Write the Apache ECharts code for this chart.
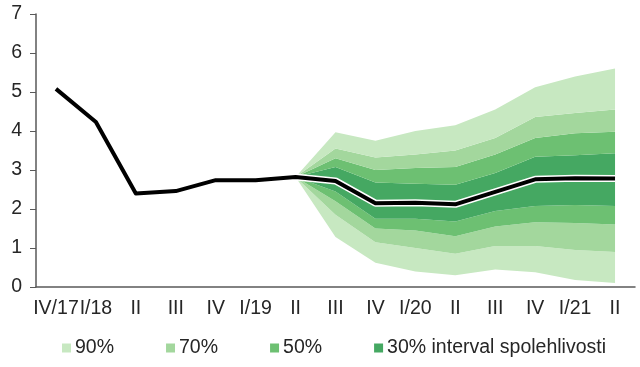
<!DOCTYPE html>
<html>
<head>
<meta charset="utf-8">
<script src="https://cdn.jsdelivr.net/npm/echarts@6/dist/echarts.min.js"></script>
<style>
html,body{margin:0;padding:0;background:#fff;}
#chart{width:640px;height:367px;}
</style>
</head>
<body>
<div id="chart"></div>
<script>
var categories = ['IV/17','I/18','II','III','IV','I/19','II','III','IV','I/20','II','III','IV','I/21','II'];
var lineValues = [5.08, 4.23, 2.40, 2.46, 2.74, 2.74, 2.82, 2.72, 2.15, 2.16, 2.12, 2.44, 2.76, 2.79, 2.78];
// fan chart edges, from II/19 (index 6) to II/21
var fanStart = 6;
var up90 = [2.82, 3.97, 3.75, 4.00, 4.15, 4.55, 5.12, 5.40, 5.60];
var up70 = [2.82, 3.55, 3.32, 3.40, 3.50, 3.82, 4.36, 4.46, 4.55];
var up50 = [2.82, 3.30, 3.00, 3.05, 3.08, 3.40, 3.82, 3.94, 3.98];
var up30 = [2.82, 3.08, 2.68, 2.65, 2.62, 2.92, 3.34, 3.38, 3.43];
var lo30 = [2.82, 2.45, 1.75, 1.75, 1.68, 1.95, 2.08, 2.10, 2.08];
var lo50 = [2.82, 2.20, 1.50, 1.45, 1.30, 1.55, 1.66, 1.64, 1.60];
var lo70 = [2.82, 1.85, 1.15, 1.00, 0.85, 1.05, 1.05, 0.95, 0.90];
var lo90 = [2.82, 1.28, 0.62, 0.40, 0.30, 0.45, 0.38, 0.18, 0.10];
var legendNames = ['90%', '70%', '50%', '30% interval spolehlivosti'];
var bandColors = ['#c7e8c1', '#a3d79d', '#6dc072', '#45a862'];

function full(arr) {
  var out = [];
  for (var i = 0; i < categories.length; i++) {
    var j = i - fanStart;
    out.push(j >= 0 && j < arr.length ? arr[j] : '-');
  }
  return out;
}
function diff(a, b) {
  var fa = full(a), fb = full(b);
  return fa.map(function (v, i) { return v === '-' ? '-' : +(v - fb[i]).toFixed(4); });
}

var edges = [lo90, lo70, lo50, lo30, up30, up50, up70, up90];
var bandLevel = [0, 1, 2, 3, 2, 1, 0];
var series = [{
  type: 'line', stack: 'fan', data: full(lo90), symbol: 'none',
  lineStyle: { width: 0, opacity: 0 }, silent: true, z: 1
}];
for (var k = 0; k < 7; k++) {
  var lvl = bandLevel[k];
  series.push({
    name: legendNames[lvl],
    type: 'line', stack: 'fan', data: diff(edges[k + 1], edges[k]),
    symbol: 'none', silent: true, z: 1,
    lineStyle: { width: 0, opacity: 0 },
    itemStyle: { color: bandColors[lvl] },
    areaStyle: { color: bandColors[lvl], opacity: 1 }
  });
}
series.push({
  type: 'line', data: lineValues, symbol: 'none', silent: true, z: 3,
  lineStyle: { color: '#ffffff', width: 7 }
});
series.push({
  type: 'line', data: lineValues, symbol: 'none', silent: true, z: 4,
  lineStyle: { color: '#000000', width: 4, join: 'round' }
});

var chart = echarts.init(document.getElementById('chart'), null, { renderer: 'canvas' });
chart.setOption({
  animation: false,
  backgroundColor: '#ffffff',
  textStyle: { fontFamily: 'Liberation Sans, Arial, sans-serif' },
  grid: { left: 36, right: 5, top: 14, bottom: 80, containLabel: false },
  legend: {
    data: legendNames.map(function (n) { return { name: n, icon: 'rect' }; }),
    bottom: 4, left: 57,
    itemWidth: 9, itemHeight: 9, itemGap: 52,
    textStyle: { fontSize: 19.5, color: '#262626', padding: [0, 0, 0, -1] },
    selectedMode: false
  },
  xAxis: {
    type: 'category', data: categories, boundaryGap: true,
    axisLine: { lineStyle: { color: '#595959', width: 1.5 } },
    axisTick: { show: false },
    axisLabel: { interval: 0, fontSize: 19.5, color: '#262626', margin: 12 },
    splitLine: { show: false }
  },
  yAxis: {
    type: 'value', min: 0, max: 7, interval: 1,
    axisLine: { show: true, lineStyle: { color: '#595959', width: 1.5 } },
    axisTick: { show: true, inside: false, length: 6, lineStyle: { color: '#595959' } },
    axisLabel: { fontSize: 19.5, color: '#262626', margin: 14 },
    splitLine: { show: false }
  },
  series: series
});
</script>
</body>
</html>
